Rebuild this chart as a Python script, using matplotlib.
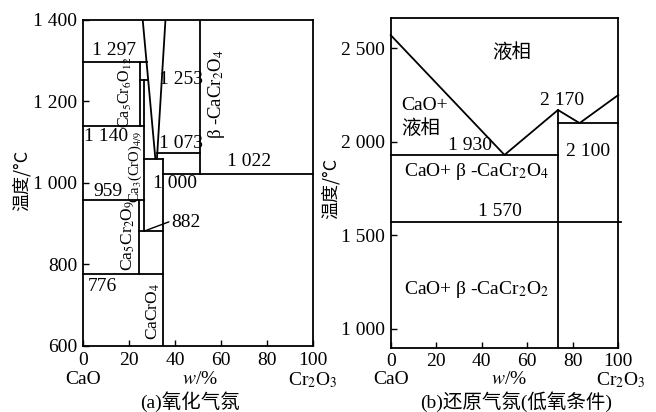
import matplotlib
matplotlib.use("Agg")
import matplotlib.pyplot as plt

plt.rcParams['font.family'] = ['Liberation Serif', 'Noto Sans CJK SC']
plt.rcParams['mathtext.fontset'] = 'stix'

# ---- (a) oxidizing atmosphere ----
a_xticks = [0, 20, 40, 60, 80, 100]
a_yticks = [600, 800, 1000, 1200, 1400]
a_ytick_labels = ['600', '800', '1 000', '1 200', '1 400']

# isotherms: temperature, start and end composition
a_iso_T = [1297, 1253, 1140, 1073, 1060, 1022, 959, 882, 776]
a_iso_x0 = [0, 24.9, 0, 32.3, 26.7, 35, 0, 24.6, 0]
a_iso_x1 = [27.7, 28.2, 26.7, 51, 35, 100, 26.7, 35, 35]

# vertical phase boundaries: composition, lower and upper temperature
a_vert_x = [24.9, 26.7, 24.6, 35, 51]
a_vert_lo = [1140, 882, 776, 600, 1022]
a_vert_hi = [1297, 1253, 959, 1060, 1400]

# the two converging liquidus lines
a_liq1_x = [26.0, 31.5]
a_liq1_T = [1400, 1060]
a_liq2_x = [35.9, 32.2]
a_liq2_T = [1400, 1060]

# ---- (b) reducing atmosphere ----
b_xticks = [0, 20, 40, 60, 80, 100]
b_yticks = [1000, 1500, 2000, 2500]
b_ytick_labels = ['1 000', '1 500', '2 000', '2 500']

b_liq_x = [0, 50, 73.5, 83, 100]
b_liq_T = [2570, 1930, 2170, 2100, 2250]

b_iso_T = [1930, 2100, 1570]
b_iso_x0 = [0, 73.5, 0]
b_iso_x1 = [73.5, 100, 101]

b_vert_x = [73.5]
b_vert_lo = [900]
b_vert_hi = [2170]

LW = 1.3
FS = 14
CN = ['Noto Sans CJK SC', 'DejaVu Sans']

fig = plt.figure(figsize=(6.56, 4.12), dpi=100)
ax1 = fig.add_axes([0.1265, 0.1602, 0.3502, 0.7913])
ax2 = fig.add_axes([0.5956, 0.1561, 0.3469, 0.7995])


def style(ax, xticks, yticks, ylabels, ylim):
    ax.set_xlim(0, 100)
    ax.set_ylim(*ylim)
    ax.set_xticks(xticks)
    ax.set_xticklabels([str(t) for t in xticks])
    ax.set_yticks(yticks)
    ax.set_yticklabels(ylabels)
    ax.tick_params(direction='in', length=4.5, width=1, labelsize=FS, pad=4)
    for s in ax.spines.values():
        s.set_linewidth(LW)


def draw(ax, iso_T, iso_x0, iso_x1, vx, vlo, vhi):
    for T, x0, x1 in zip(iso_T, iso_x0, iso_x1):
        ax.plot([x0, x1], [T, T], color='black', lw=LW, clip_on=False)
    for x, lo, hi in zip(vx, vlo, vhi):
        ax.plot([x, x], [lo, hi], color='black', lw=LW)


# (a)
style(ax1, a_xticks, a_yticks, a_ytick_labels, (600, 1400))
draw(ax1, a_iso_T, a_iso_x0, a_iso_x1, a_vert_x, a_vert_lo, a_vert_hi)
ax1.plot(a_liq1_x, a_liq1_T, color='black', lw=LW)
ax1.plot(a_liq2_x, a_liq2_T, color='black', lw=LW)

ax1.text(13.5, 1326, '1 297', fontsize=FS, ha='center', va='center')
ax1.text(42.6, 1253, '1 253', fontsize=FS, ha='center', va='center')
ax1.text(0.3, 1114, '1 140', fontsize=FS, ha='left', va='center')
ax1.text(42.6, 1096, '1 073', fontsize=FS, ha='center', va='center')
ax1.text(72.3, 1052, '1 022', fontsize=FS, ha='center', va='center')
ax1.text(40, 999, '1 000', fontsize=FS, ha='center', va='center')
ax1.text(10.7, 979, '959', fontsize=FS, ha='center', va='center')
ax1.text(8.5, 747, '776', fontsize=FS, ha='center', va='center')
ax1.annotate('882', xy=(26.7, 882), xytext=(38.6, 903), fontsize=FS,
             ha='left', va='center',
             arrowprops=dict(arrowstyle='-', lw=1, color='black',
                             relpos=(0, 0.6), shrinkA=0, shrinkB=0))

ax1.text(18.3, 1222, 'Ca$_5$Cr$_6$O$_{12}$', fontsize=11.5, rotation=90,
         ha='center', va='center')
ax1.text(58.2, 1218, 'β -CaCr$_2$O$_4$', fontsize=13.5, rotation=90,
         ha='center', va='center')
ax1.text(22.6, 1040, 'Ca$_3$(CrO)$_{4/9}$', fontsize=10.5, rotation=90,
         ha='center', va='center')
ax1.text(19.7, 872, 'Ca$_5$Cr$_2$O$_9$', fontsize=12.5, rotation=90,
         ha='center', va='center')
ax1.text(30.6, 686, 'CaCrO$_4$', fontsize=12.5, rotation=90,
         ha='center', va='center')

tr1 = ax1.get_xaxis_transform()
ax1.text(0, -0.104, 'CaO', fontsize=FS, ha='center', va='center', transform=tr1)
ax1.text(51, -0.104, '$w$/%', fontsize=FS, ha='center', va='center', transform=tr1)
ax1.text(100, -0.104, 'Cr$_2$O$_3$', fontsize=FS, ha='center', va='center', transform=tr1)
ax1.text(46.5, -0.171, '(a)氧化气氛', fontsize=14, ha='center', va='center',
         transform=tr1)

# (b)
style(ax2, b_xticks, b_yticks, b_ytick_labels, (900, 2660))
draw(ax2, b_iso_T, b_iso_x0, b_iso_x1, b_vert_x, b_vert_lo, b_vert_hi)
ax2.plot(b_liq_x, b_liq_T, color='black', lw=LW, clip_on=False)

ax2.text(53, 2475, '液相', fontsize=14, ha='center', va='center', family=CN)
ax2.text(4.5, 2192, 'CaO+', fontsize=FS, ha='left', va='center')
ax2.text(4.5, 2073, '液相', fontsize=14, ha='left', va='center', family=CN)
ax2.text(35, 1982, '1 930', fontsize=FS, ha='center', va='center')
ax2.text(75.5, 2223, '2 170', fontsize=FS, ha='center', va='center')
ax2.text(86.7, 1946, '2 100', fontsize=FS, ha='center', va='center')
ax2.text(37.8, 1839, 'CaO+ β -CaCr$_2$O$_4$', fontsize=FS, ha='center', va='center')
ax2.text(48, 1625, '1 570', fontsize=FS, ha='center', va='center')
ax2.text(37.5, 1209, 'CaO+ β -CaCr$_2$O$_2$', fontsize=FS, ha='center', va='center')

tr2 = ax2.get_xaxis_transform()
ax2.text(0, -0.098, 'CaO', fontsize=FS, ha='center', va='center', transform=tr2)
ax2.text(51.8, -0.098, '$w$/%', fontsize=FS, ha='center', va='center', transform=tr2)
ax2.text(101, -0.098, 'Cr$_2$O$_3$', fontsize=FS, ha='center', va='center', transform=tr2)
ax2.text(55, -0.164, '(b)还原气氛(低氧条件)', fontsize=14, ha='center', va='center',
         transform=tr2)

# temperature axis titles
fig.text(22 / 656, 1 - 180 / 412, '温度/°C', fontsize=13, rotation=90,
         ha='center', va='center', family=CN)
fig.text(331 / 656, 1 - 188 / 412, '温度/°C', fontsize=13, rotation=90,
         ha='center', va='center', family=CN)

fig.savefig('out.png', dpi=100)
